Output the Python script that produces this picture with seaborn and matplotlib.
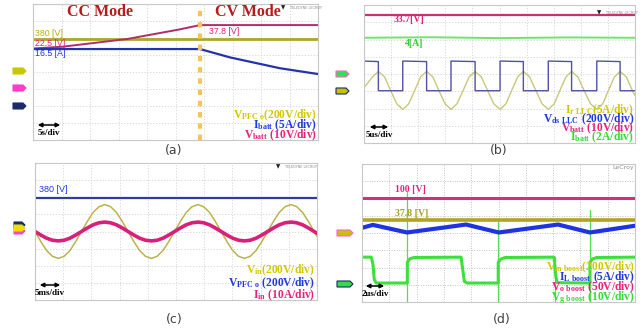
import numpy as np
import matplotlib
matplotlib.use("Agg")
import matplotlib.pyplot as plt
from matplotlib.patches import Polygon, FancyArrowPatch
import seaborn as sns

# ---------------- data (oscilloscope divisions: x 0..10, y 0..8) ----------------
# (a) CC / CV charging
a_vpfc_x = [0, 10]
a_vpfc_y = [5.94, 5.94]
a_vbatt_x = [0, 1.05, 3.30, 5.16, 5.86, 10]
a_vbatt_y = [5.38, 5.49, 5.94, 6.51, 6.76, 6.76]
a_ibatt_x = [0, 5.86, 6.91, 8.67, 10]
a_ibatt_y = [5.35, 5.35, 4.86, 4.22, 3.88]
a_mode_x = [5.85, 5.85]
a_mode_y = [0, 8]

# (b) LLC waveforms
b_vbatt_x = [0, 10]
b_vbatt_y = [7.42, 7.42]
b_ibatt_x = [0, 2.5, 5, 7.5, 10]
b_ibatt_y = [6.10, 6.13, 6.08, 6.12, 6.10]
b_vds_x = [0, 0.53, 0.53, 1.43, 1.43, 2.31, 2.31, 3.21, 3.21, 4.10, 4.10, 5.02,
           5.02, 5.88, 5.88, 6.80, 6.80, 7.66, 7.66, 8.59, 8.59, 9.45, 9.45, 10]
b_vds_y = [4.75, 4.72, 3.03, 3.03, 4.75, 4.72, 3.03, 3.03, 4.75, 4.72, 3.03, 3.03,
           4.75, 4.72, 3.03, 3.03, 4.75, 4.72, 3.03, 3.03, 4.75, 4.72, 3.03, 3.03]
b_ir_x = [0, 0.31, 0.53, 0.76, 0.98, 1.21, 1.43, 1.65, 1.87, 2.09, 2.31, 2.54, 2.76,
          2.99, 3.21, 3.43, 3.66, 3.88, 4.10, 4.33, 4.56, 4.79, 5.02, 5.24, 5.45,
          5.67, 5.88, 6.11, 6.34, 6.57, 6.80, 7.02, 7.23, 7.45, 7.66, 7.89, 8.12,
          8.36, 8.59, 8.81, 9.02, 9.24, 9.45, 9.68, 9.90, 10]
b_ir_y = [3.20, 3.83, 4.15, 3.83, 3.05, 2.27, 1.95, 2.27, 3.05, 3.83, 4.15, 3.83, 3.05,
          2.27, 1.95, 2.27, 3.05, 3.83, 4.15, 3.83, 3.05, 2.27, 1.95, 2.27, 3.05,
          3.83, 4.15, 3.83, 3.05, 2.27, 1.95, 2.27, 3.05, 3.83, 4.15, 3.83, 3.05,
          2.27, 1.95, 2.27, 3.05, 3.83, 4.15, 3.83, 3.05, 2.75]

# (c) PFC input
c_vpfc_x = [0, 10]
c_vpfc_y = [5.96, 5.96]
c_t = [0, 0.21, 0.41, 0.62, 0.83, 1.03, 1.24, 1.44, 1.65, 1.86, 2.06, 2.27, 2.48,
       2.68, 2.89, 3.09, 3.30, 3.51, 3.71, 3.92, 4.13, 4.33, 4.54, 4.74, 4.95,
       5.16, 5.36, 5.57, 5.78, 5.98, 6.19, 6.39, 6.60, 6.81, 7.01, 7.22, 7.43,
       7.63, 7.84, 8.04, 8.25, 8.46, 8.66, 8.87, 9.08, 9.28, 9.49, 9.69, 9.90, 10.0]
c_vin_y = [4.00, 3.40, 2.89, 2.55, 2.43, 2.55, 2.89, 3.40, 4.00, 4.60, 5.11, 5.45, 5.57,
           5.45, 5.11, 4.60, 4.00, 3.40, 2.89, 2.55, 2.43, 2.55, 2.89, 3.40, 4.00,
           4.60, 5.11, 5.45, 5.57, 5.45, 5.11, 4.60, 4.00, 3.40, 2.89, 2.55, 2.43,
           2.55, 2.89, 3.40, 4.00, 4.60, 5.11, 5.45, 5.57, 5.45, 5.11, 4.60, 4.00, 3.71]
c_iin_y = [4.00, 3.79, 3.61, 3.49, 3.45, 3.49, 3.61, 3.79, 4.00, 4.21, 4.39, 4.51, 4.55,
           4.51, 4.39, 4.21, 4.00, 3.79, 3.61, 3.49, 3.45, 3.49, 3.61, 3.79, 4.00,
           4.21, 4.39, 4.51, 4.55, 4.51, 4.39, 4.21, 4.00, 3.79, 3.61, 3.49, 3.45,
           3.49, 3.61, 3.79, 4.00, 4.21, 4.39, 4.51, 4.55, 4.51, 4.39, 4.21, 4.00, 3.90]

# (d) boost converter
d_vo_x = [0, 10]
d_vo_y = [6.05, 6.05]
d_vin_x = [0, 10]
d_vin_y = [4.75, 4.75]
d_il_x = [0, 0.40, 1.65, 3.81, 5.01, 7.18, 8.35, 10]
d_il_y = [4.30, 4.47, 4.03, 4.49, 4.03, 4.49, 4.03, 4.42]
d_vg_x = [0, 0.34, 0.40, 0.45, 0.52, 1.66, 1.66, 1.75, 1.90, 3.63, 3.68, 3.75, 3.85,
          4.99, 4.99, 5.10, 5.25, 7.03, 7.10, 7.15, 8.35, 8.35, 8.45, 8.60, 10]
d_vg_y = [2.60, 2.60, 2.20, 1.30, 1.10, 1.10, 2.30, 2.50, 2.58, 2.60, 2.00, 1.20, 1.10,
          1.10, 2.30, 2.50, 2.58, 2.60, 1.50, 1.12, 1.10, 2.30, 2.50, 2.58, 2.60]
d_spike_x = [1.66, 4.99, 7.08, 8.35]
d_spike_top = [6.40, 4.75, 2.60, 5.33]

# ---------------- figure ----------------
W, H = 643, 332
sns.set_style("white")
plt.rcParams['font.family'] = ['DejaVu Sans']
plt.rcParams['mathtext.fontset'] = 'custom'
plt.rcParams['mathtext.rm'] = 'Liberation Serif:bold'
plt.rcParams['mathtext.bf'] = 'Liberation Serif:bold'
plt.rcParams['mathtext.it'] = 'Liberation Serif:bold'
plt.rcParams['mathtext.default'] = 'bf'

fig = plt.figure(figsize=(W / 100, H / 100), dpi=100)
fig.patch.set_facecolor('white')


def panel(l, t, r, b):
    ax = fig.add_axes([l / W, 1 - b / H, (r - l) / W, (b - t) / H])
    ax.set_xlim(0, 10)
    ax.set_ylim(0, 8)
    ax.set_xticks(np.arange(0, 11))
    ax.set_yticks(np.arange(0, 9))
    ax.tick_params(length=0, labelbottom=False, labelleft=False)
    ax.grid(True, color='#d4d4d4', lw=0.6, ls=(0, (1.5, 2)))
    for s in ax.spines.values():
        s.set_color('#c8c8c8')
        s.set_linewidth(0.8)
    ax.set_facecolor('white')
    return ax


def line(ax, x, y, color, lw, **kw):
    sns.lineplot(x=x, y=y, ax=ax, color=color, lw=lw, estimator=None,
                 sort=False, legend=False, **kw)


def ftext(x, y, s, **kw):
    fig.text(x / W, 1 - y / H, s, **kw)


def tag(x0, x1, y, fc, ec=None):
    pts = [(x0, y - 3), (x1 - 3, y - 3), (x1, y), (x1 - 3, y + 3), (x0, y + 3)]
    pts = [(px / W, 1 - py / H) for px, py in pts]
    fig.add_artist(Polygon(pts, closed=True, transform=fig.transFigure,
                           facecolor=fc, edgecolor=ec if ec else fc, lw=0.8))


def scale(x0, x1, y, label):
    fig.add_artist(FancyArrowPatch((x0 / W, 1 - y / H), (x1 / W, 1 - y / H),
                                   transform=fig.transFigure, arrowstyle='<|-|>',
                                   mutation_scale=6, color='black', lw=1.1))
    ftext((x0 + x1) / 2, y + 8, label, ha='center', va='center', fontsize=6.5,
          family='Liberation Serif', weight='bold', color='black')


def legend(x, ys, items):
    for y, (s, c) in zip(ys, items):
        ftext(x, y + 3.5, s, ha='right', va='baseline', fontsize=8.3, color=c)


def logo(x, y):
    ftext(x, y, '\u25BC', fontsize=4, color='#222222', ha='left', va='center')
    ftext(x + 9, y, 'TELEDYNE LECROY', fontsize=2.4, color='#888888',
          ha='left', va='center')


YEL = '#D2C800'
BLU = '#2038E0'
PNK = '#E8207A'
GRN = '#33DD33'

# ---- (a)
ax = panel(33, 4, 318, 140)
line(ax, a_vpfc_x, a_vpfc_y, '#ABA82C', 2.0)
line(ax, a_vbatt_x, a_vbatt_y, '#B02C6A', 1.4)
line(ax, a_ibatt_x, a_ibatt_y, '#2434A8', 1.6)
line(ax, a_mode_x, a_mode_y, '#F8C35A', 3.0, linestyle=(0, (1.3, 1.4)))
ftext(100, 12, 'CC Mode', ha='center', va='center', fontsize=11.5,
      family='Liberation Serif', weight='bold', color='#B51C1C')
ftext(248, 12, 'CV Mode', ha='center', va='center', fontsize=11.5,
      family='Liberation Serif', weight='bold', color='#B51C1C')
logo(281, 8)
ftext(35, 33, '380 [V]', fontsize=6.3, color='#B8B000', va='center',
      family='Liberation Sans')
ftext(35, 44, '22.5 [V]', fontsize=6.3, color=PNK, va='center',
      family='Liberation Sans')
ftext(35, 54, '16.5 [A]', fontsize=6.3, color=BLU, va='center',
      family='Liberation Sans')
ftext(209, 32, '37.8 [V]', fontsize=6.3, color=PNK, va='center',
      family='Liberation Sans')
legend(317, [115, 125, 135],
       [(r'$V_{PFC\ o}(200V/div)$', YEL),
        (r'$I_{batt}\ (5A/div)$', BLU),
        (r'$V_{batt}\ (10V/div)$', PNK)])
scale(35, 63, 125, '5s/div')
tag(13, 26, 71, '#C8C800')
tag(13, 26, 88, '#FF3CC8')
tag(13, 26, 106, '#1A2A6C')
ftext(174, 150, '(a)', ha='center', va='center', fontsize=9, color='#404040')

# ---- (b)
ax = panel(364, 5, 635, 143)
line(ax, b_vbatt_x, b_vbatt_y, '#C8306E', 1.6)
line(ax, b_ibatt_x, b_ibatt_y, '#74E074', 1.4)
line(ax, b_ir_x, b_ir_y, '#C8C878', 1.0)
line(ax, b_vds_x, b_vds_y, '#5050A8', 1.0)
logo(597, 13)
ftext(394, 20, '33.7[V]', fontsize=7, color=PNK, va='center',
      family='Liberation Serif', weight='bold')
ftext(405, 43, '4[A]', fontsize=7, color='#33CC33', va='center',
      family='Liberation Serif', weight='bold')
legend(634, [110, 119, 128, 137],
       [(r'$I_{r\ LLC}(5A/div)$', YEL),
        (r'$V_{ds\ LLC}\ (200V/div)$', BLU),
        (r'$V_{batt}\ (10V/div)$', PNK),
        (r'$I_{batt}\ (2A/div)$', GRN)])
scale(367, 391, 127, '5us/div')
tag(336, 349, 74, '#33DD55', '#FF66CC')
tag(336, 349, 91, '#C8C000', '#1A2A6C')
ftext(499, 150, '(b)', ha='center', va='center', fontsize=9, color='#404040')

# ---- (c)
ax = panel(35, 163, 317, 300)
line(ax, c_vpfc_x, c_vpfc_y, '#2E3C9C', 1.6)
line(ax, c_t, c_vin_y, '#BBB34A', 1.1)
line(ax, c_t, c_iin_y, '#D8207A', 2.6)
logo(276, 167)
ftext(39, 189, '380 [V]', fontsize=6.5, color=BLU, va='center',
      family='Liberation Sans')
legend(315, [270, 283, 295],
       [(r'$V_{in}(200V/div)$', YEL),
        (r'$V_{PFC\ o}\ (200V/div)$', BLU),
        (r'$I_{in}\ (10A/div)$', PNK)])
scale(37, 63, 285, '5ms/div')
tag(14, 25, 231, '#FF44CC')
tag(14, 25, 225, '#1A2A6C')
tag(14, 25, 228, '#E8E000')
ftext(174, 319, '(c)', ha='center', va='center', fontsize=9, color='#404040')

# ---- (d)
ax = panel(362, 164, 635, 302)
ax.grid(True, color='#c4c4c4', lw=0.7, ls=(0, (1, 1.5)))
for sx, st in zip(d_spike_x, d_spike_top):
    line(ax, [sx, sx], [0, st], '#55DD55', 0.9)
line(ax, d_vo_x, d_vo_y, '#D0307A', 2.2)
line(ax, d_vin_x, d_vin_y, '#B0A420', 2.6)
line(ax, d_il_x, d_il_y, '#1E34E0', 3.0)
line(ax, d_vg_x, d_vg_y, '#3CE03C', 2.2)
ftext(634, 168, 'LeCroy', fontsize=4.5, color='#909090', ha='right', va='center')
ftext(395, 190, '100 [V]', fontsize=7, color=PNK, va='center',
      family='Liberation Serif', weight='bold')
ftext(395, 213, '37.8 [V]', fontsize=7, color='#A8A020', va='center',
      family='Liberation Serif', weight='bold')
legend(635, [267, 277, 287, 297],
       [(r'$V_{in\ boost}(200V/div)$', YEL),
        (r'$I_{L\ boost}\ (5A/div)$', BLU),
        (r'$V_{o\ boost}\ (50V/div)$', PNK),
        (r'$V_{g\ boost}\ (10V/div)$', GRN)])
scale(363, 387, 286, '2us/div')
tag(337, 353, 233, '#C8C000', '#FF66CC')
tag(337, 353, 284, '#33DD44', '#1A2A6C')
ftext(502, 320, '(d)', ha='center', va='center', fontsize=9, color='#404040')

fig.savefig('out.png', dpi=100, facecolor='white')
